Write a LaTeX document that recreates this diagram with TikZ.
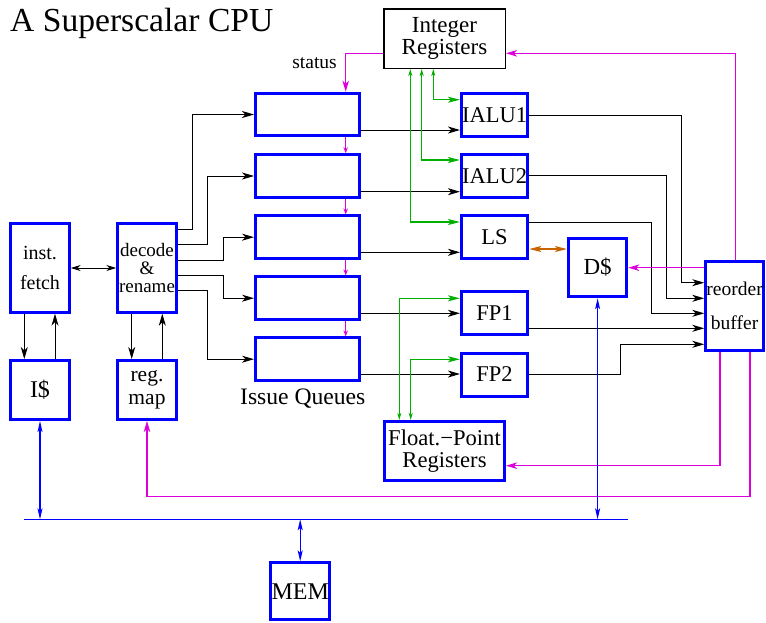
\documentclass[tikz,border=0pt]{standalone}
\usepackage{fontspec}
\setmainfont{Liberation Serif}
\usetikzlibrary{arrows.meta}
\definecolor{cMag}{RGB}{220,0,220}
\definecolor{cGrn}{RGB}{0,175,0}
\definecolor{cOrg}{RGB}{200,100,0}
\definecolor{cBlu}{RGB}{0,0,255}
\newcommand\fntTitle{\fontsize{33.6}{34}\selectfont}
\newcommand\fntBig{\fontsize{23}{22.6}\selectfont}
\newcommand\fntUnit{\fontsize{22.5}{22.5}\selectfont}
\newcommand\fntFetch{\fontsize{20}{30.7}\selectfont}
\newcommand\fntDec{\fontsize{19}{18}\selectfont}
\newcommand\fntMap{\fontsize{21.5}{23}\selectfont}
\newcommand\fntRob{\fontsize{19.5}{34.7}\selectfont}
\newcommand\fntFreg{\fontsize{22.6}{21.7}\selectfont}
\newcommand\fntStat{\fontsize{19.5}{20}\selectfont}
\tikzset{
  xBk/.tip={Stealth[length=12pt,width=7pt,inset=3.5pt]},
  xBs/.tip={Stealth[length=10pt,width=6pt,inset=3pt]},
  xMs/.tip={Stealth[length=6pt,width=4.5pt,inset=2pt]},
  xMl/.tip={Stealth[length=11pt,width=6.5pt,inset=3pt]},
  xGs/.tip={Stealth[length=7pt,width=4pt,inset=2pt]},
  xGl/.tip={Stealth[length=12pt,width=6pt,inset=3pt]},
  xBl/.tip={Stealth[length=11pt,width=5pt,inset=2.5pt]},
  xOl/.tip={Stealth[length=12pt,width=6pt,inset=3pt]},
  bbox/.style={draw=cBlu, line width=3pt, inner sep=0pt, align=center, fill=white},
  qbox/.style={bbox, minimum width=104pt, minimum height=42.6pt},
  ubox/.style={bbox, minimum width=66.3pt, minimum height=43pt, font=\fntUnit},
  sbox/.style={bbox, minimum width=58.4pt},
  conn/.style={line width=1pt, black},
  mg/.style={line width=1.1pt, cMag},
  gr/.style={line width=1.1pt, cGrn},
  og/.style={line width=1.1pt, cOrg},
  bl/.style={line width=1.1pt, cBlu},
}
\begin{document}
\begin{tikzpicture}[x=1pt,y=-1pt]
\useasboundingbox (0,0) rectangle (766,622);

% texts
\node[anchor=base west, inner sep=0pt, font=\fntTitle] (title) at (10,31.7) {A Superscalar CPU};
\node[anchor=base east, inner sep=0pt, font=\fntStat] (status) at (337,68.3) {status};
\node[anchor=base west, inner sep=0pt, font=\fontsize{23.6}{24}\selectfont] (iq) at (240,404) {Issue Queues};

% boxes
\node[draw=black, line width=1.5pt, inner sep=0pt, align=center, minimum width=121.5pt, minimum height=59.5pt, font=\fntBig] (ireg) at (444.5,38.5) {Integer\\Registers};
\node[qbox] (q1) at (307.5,114.5) {};
\node[qbox] (q2) at (307.5,176) {};
\node[qbox] (q3) at (307.5,237.2) {};
\node[qbox] (q4) at (307.5,298.2) {};
\node[qbox] (q5) at (307.5,359.2) {};
\node[sbox, minimum height=88.4pt, font=\fntFetch] (fetch) at (40,268) {inst.\\fetch};
\node[sbox, minimum height=88.4pt, font=\fntDec] (dec) at (147,268) {decode\\\&\\rename};
\node[sbox, minimum height=59pt, font=\fontsize{24}{24}\selectfont] (icache) at (40,390) {I\$};
\node[sbox, minimum height=59pt, font=\fntMap] (rmap) at (147,390) {reg.\\map};
\node[ubox] (ialu1) at (494.6,114.7) {IALU1};
\node[ubox] (ialu2) at (494.6,176) {IALU2};
\node[ubox] (ls) at (494.6,237.2) {LS};
\node[ubox] (fp1) at (494.6,313.3) {FP1};
\node[ubox] (fp2) at (494.6,374.5) {FP2};
\node[bbox, minimum width=58.3pt, minimum height=58.6pt, font=\fntBig] (dc) at (597.6,267.5) {D\$};
\node[bbox, minimum width=57.7pt, minimum height=88.7pt, font=\fntRob] (rob) at (734.6,305.8) {reorder\\buffer};
\node[bbox, minimum width=120pt, minimum height=58.7pt, font=\fntFreg] (freg) at (444.5,450.8) {Float.−Point\\Registers};
\node[bbox, minimum width=58.6pt, minimum height=56.7pt, font=\fontsize{24}{24}\selectfont] (mem) at (300.2,591.2) {MEM};

% fetch / decode
\draw[conn, xBs-xBs] (fetch.east) -- (dec.west);
\draw[conn, -xBk] (fetch.south -| 24.3,0) -- (icache.north -| 24.3,0);
\draw[conn, -xBk] (icache.north -| 55,0) -- (fetch.south -| 55,0);
\draw[conn, -xBk] (dec.south -| 131.7,0) -- (rmap.north -| 131.7,0);
\draw[conn, -xBk] (rmap.north -| 162.3,0) -- (dec.south -| 162.3,0);

% decode -> queues
\draw[conn, -xBk] (dec.east |- 0,229.3) -- (192.7,229.3) |- (q1.west);
\draw[conn, -xBk] (dec.east |- 0,244.3) -- (207.7,244.3) |- (q2.west);
\draw[conn, -xBk] (dec.east |- 0,260) -- (223.3,260) |- (q3.west);
\draw[conn, -xBk] (dec.east |- 0,275.3) -- (223.3,275.3) |- (q4.west);
\draw[conn, -xBk] (dec.east |- 0,290.7) -- (207.7,290.7) |- (q5.west);

% queues -> units
\draw[conn, -xBk] (q1.east |- 0,130) -- (ialu1.west |- 0,130);
\draw[conn, -xBk] (q2.east |- 0,191.7) -- (ialu2.west |- 0,191.7);
\draw[conn, -xBk] (q3.east |- 0,252.3) -- (ls.west |- 0,252.3);
\draw[conn, -xBk] (q4.east |- 0,313.3) -- (fp1.west |- 0,313.3);
\draw[conn, -xBk] (q5.east |- 0,374) -- (fp2.west |- 0,374);

% units -> reorder buffer
\draw[conn, -xBk] (ialu1.east |- 0,115) -| (681.7,282.7) -- (rob.west |- 0,282.7);
\draw[conn, -xBk] (ialu2.east |- 0,175.7) -| (666.5,298.3) -- (rob.west |- 0,298.3);
\draw[conn, -xBk] (ls.east |- 0,222.3) -| (651,313.3) -- (rob.west |- 0,313.3);
\draw[conn, -xBk] (fp1.east |- 0,328.3) -- (rob.west |- 0,328.3);
\draw[conn, -xBk] (fp2.east |- 0,374) -| (620,344.3) -- (rob.west |- 0,344.3);

% magenta
\draw[mg, -xMl] (ireg.west |- 0,53.3) -| (q1.north -| 345.7,0);
\draw[mg, -xMs] (q1.south -| 345.7,0) -- (q2.north -| 345.7,0);
\draw[mg, -xMs] (q2.south -| 345.7,0) -- (q3.north -| 345.7,0);
\draw[mg, -xMs] (q3.south -| 345.7,0) -- (q4.north -| 345.7,0);
\draw[mg, -xMs] (q4.south -| 345.7,0) -- (q5.north -| 345.7,0);
\draw[mg, -xMl] (rob.north -| 735.5,0) |- (ireg.east |- 0,53.3);
\draw[mg, -xMl] (rob.west |- 0,267.7) -- (dc.east |- 0,267.7);
\draw[mg, -xMl] (rob.south -| 720,0) |- (freg.east |- 0,465.7);
\draw[mg, -xMl] (rob.south -| 750,0) -- (750,496.5) -| (rmap.south);

% green
\draw[gr, xGs-xGl] (ireg.south -| 433.3,0) |- (ialu1.west |- 0,99.7);
\draw[gr, xGs-xGl] (ireg.south -| 421.7,0) |- (ialu2.west |- 0,160);
\draw[gr, xGs-xGl] (ireg.south -| 410.3,0) |- (ls.west |- 0,222);
\draw[gr, xGs-xGl] (freg.north -| 399.3,0) |- (fp1.west |- 0,298.3);
\draw[gr, xGs-xGl] (freg.north -| 410.7,0) |- (fp2.west |- 0,359.3);

% orange
\draw[og, xOl-xOl] (ls.east |- 0,249) -- (dc.west |- 0,249);

% memory bus
\coordinate (busL) at (24.4,519.3);
\coordinate (busR) at (628.4,519.3);
\draw[bl, line width=1.4pt] (busL) -- (busR);
\draw[bl, xBl-xBl] (icache.south) -- (icache.south |- busL);
\draw[bl, xBl-xBl] (dc.south) -- (dc.south |- busL);
\draw[bl, xBl-xBl] (mem.north |- busL) -- (mem.north);
\end{tikzpicture}
\end{document}
